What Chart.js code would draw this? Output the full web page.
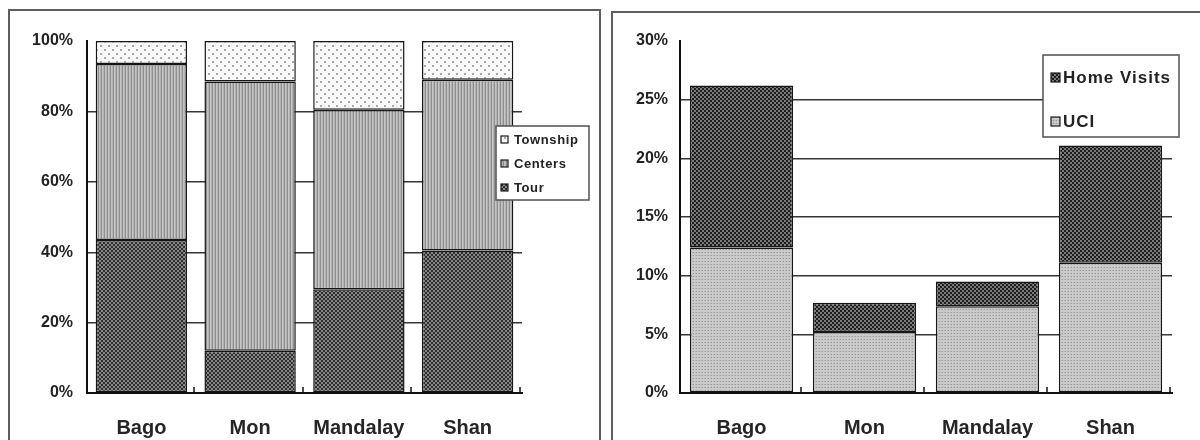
<!DOCTYPE html>
<html>
<head>
<meta charset="utf-8">
<script src="https://cdn.jsdelivr.net/npm/chart.js@4.4.1/dist/chart.umd.min.js"></script>
<style>
  html, body { margin: 0; padding: 0; background: #fff; }
  body { width: 1200px; height: 440px; position: relative; overflow: hidden; }
  .panel { position: absolute; box-sizing: border-box; border: 2px solid #5e5e5e; border-bottom: none; background: #fff; }
  #panelA { left: 8px; top: 9px; width: 593px; height: 440px; }
  #panelB { left: 611px; top: 11px; width: 600px; height: 440px; }
  canvas { position: absolute; }
  #chartA { left: 11px; top: 12px; width: 587px; height: 428px; }
  #chartB { left: 614px; top: 14px; width: 586px; height: 426px; }
</style>
</head>
<body>
<div class="panel" id="panelA"></div>
<div class="panel" id="panelB"></div>
<canvas id="chartA" width="587" height="428"></canvas>
<canvas id="chartB" width="586" height="426"></canvas>
<script>
// Regions shown on both charts
const categories = ['Bago', 'Mon', 'Mandalay', 'Shan'];

// Left chart: where services were delivered (% of total, stacked to 100)
const tourShare     = [43.5, 12.0, 29.5, 40.5];
const centersShare  = [50.0, 76.5, 51.0, 48.5];
const townshipShare = [6.5, 11.5, 19.5, 11.0];
const leftTickValues = [0, 20, 40, 60, 80, 100];

// Right chart: share of contacts by type (%)
const uciShare       = [12.4, 5.2, 7.4, 11.1];
const homeVisitShare = [13.8, 2.5, 2.1, 10.0];
const rightTickValues = [0, 5, 10, 15, 20, 25, 30];

const FONT = '"Liberation Sans", Arial, Helvetica, sans-serif';
Chart.defaults.font.family = FONT;
Chart.defaults.color = '#222';

// ---- fill textures -------------------------------------------------------
function makeTile(w, h, paint) {
  const c = document.createElement('canvas');
  c.width = w; c.height = h;
  const g = c.getContext('2d');
  paint(g);
  return document.createElement('canvas').getContext('2d').createPattern(c, 'repeat');
}
const meshDark = (base, dot) => makeTile(4, 4, g => {
  g.fillStyle = base; g.fillRect(0, 0, 4, 4);
  g.fillStyle = dot; g.fillRect(0, 0, 2, 2); g.fillRect(2, 2, 2, 2);
});
const stripes = makeTile(3, 3, g => {
  g.fillStyle = '#c6c6c6'; g.fillRect(0, 0, 3, 3);
  g.fillStyle = '#8e8e8e'; g.fillRect(0, 0, 1, 3);
  g.fillStyle = '#b2b2b2'; g.fillRect(2, 0, 1, 3);
});
const sparseDots = makeTile(8, 8, g => {
  g.fillStyle = '#f8f8f8'; g.fillRect(0, 0, 8, 8);
  g.fillStyle = '#a8a8a8'; g.fillRect(1, 1, 2, 2); g.fillRect(5, 5, 2, 2);
});
const fineDots = makeTile(3, 3, g => {
  g.fillStyle = '#cacaca'; g.fillRect(0, 0, 3, 3);
  g.fillStyle = '#979797'; g.fillRect(1, 1, 1, 1);
  g.fillStyle = '#b4b4b4'; g.fillRect(0, 1, 1, 1);
});
const tourFill = meshDark('#2e2e2e', '#878787');
const homeFill = meshDark('#1e1e1e', '#7a7a7a');

// ---- plugins -------------------------------------------------------------
// Framed legend drawn at a fixed spot over the plot, listed top-down
const boxLegend = {
  id: 'boxLegend',
  afterDraw(chart, args, o) {
    const ctx = chart.ctx;
    ctx.save();
    ctx.fillStyle = '#fff';
    ctx.fillRect(o.x, o.y, o.w, o.h);
    ctx.lineWidth = 1.5;
    ctx.strokeStyle = '#505050';
    ctx.strokeRect(o.x, o.y, o.w, o.h);
    ctx.font = 'bold ' + o.size + 'px ' + FONT;
    ctx.letterSpacing = o.spacing + 'px';
    ctx.textBaseline = 'middle';
    ctx.textAlign = 'left';
    chart.data.datasets.slice().reverse().forEach((ds, i) => {
      const cy = o.y + o.first + i * o.gap;
      const bx = o.x + o.mark, by = Math.round(cy - o.box / 2);
      ctx.fillStyle = ds.backgroundColor;
      ctx.fillRect(bx, by, o.box, o.box);
      ctx.lineWidth = 1.2;
      ctx.strokeStyle = '#1a1a1a';
      ctx.strokeRect(bx, by, o.box, o.box);
      ctx.fillStyle = '#222';
      ctx.fillText(ds.label, o.x + o.text, cy + 1);
    });
    ctx.restore();
  }
};

// Short upward marks on the category axis at each category boundary
const boundaryTicks = {
  id: 'boundaryTicks',
  afterDatasetsDraw(chart) {
    const xs = chart.scales.x;
    const half = (xs.getPixelForValue(1) - xs.getPixelForValue(0)) / 2;
    const base = chart.chartArea.bottom;
    const ctx = chart.ctx;
    ctx.save();
    ctx.strokeStyle = '#111';
    ctx.lineWidth = 1.5;
    for (let i = 0; i < chart.data.labels.length; i++) {
      const px = Math.round(xs.getPixelForValue(i) + half) - 2;
      ctx.beginPath();
      ctx.moveTo(px, base);
      ctx.lineTo(px, base - 6);
      ctx.stroke();
    }
    ctx.restore();
  }
};

function stackedChart(id, datasets, max, step, ticks, layout) {
  const barStyle = { borderColor: '#161616', borderWidth: 1.5, borderSkipped: false,
                     barPercentage: layout.bar, categoryPercentage: 1 };
  return new Chart(document.getElementById(id), {
    type: 'bar',
    data: { labels: categories, datasets: datasets.map(d => Object.assign({}, barStyle, d)) },
    plugins: [boxLegend, boundaryTicks],
    options: {
      responsive: false,
      animation: false,
      layout: { padding: { left: 0, right: layout.right, top: layout.top, bottom: 0 } },
      plugins: {
        legend: { display: false },
        tooltip: { enabled: false },
        boxLegend: layout.legend
      },
      scales: {
        x: {
          stacked: true,
          grid: { display: false },
          border: { display: true, color: '#111', width: 2 },
          ticks: { padding: 15, color: '#262626', font: { size: 20, weight: 'bold' } },
          afterFit: s => { s.height = layout.xh; }
        },
        y: {
          stacked: true,
          min: 0, max: max,
          afterBuildTicks: s => { s.ticks = ticks.map(v => ({ value: v })); },
          grid: {
            drawTicks: false,
            lineWidth: 1.4,
            color: c => (c.tick && (c.tick.value === 0 || c.tick.value === max)) ? 'rgba(0,0,0,0)' : '#363636'
          },
          border: { display: true, color: '#111', width: 2 },
          ticks: { stepSize: step, padding: layout.pad, color: '#222',
                   font: { size: 16, weight: 'bold' }, callback: v => v + '%' },
          afterFit: s => { s.width = layout.yw; }
        }
      }
    }
  });
}

stackedChart('chartA', [
  { label: 'Tour', data: tourShare, backgroundColor: tourFill },
  { label: 'Centers', data: centersShare, backgroundColor: stripes },
  { label: 'Township', data: townshipShare, backgroundColor: sparseDots }
], 100, 20, leftTickValues, {
  yw: 76, xh: 47, right: 76, top: 29, pad: 14, bar: 0.84,
  legend: { x: 485, y: 114, w: 93, h: 74, first: 13, gap: 24, mark: 5, box: 7, text: 18, size: 13, spacing: 0.6 }
});

stackedChart('chartB', [
  { label: 'UCI', data: uciShare, backgroundColor: fineDots },
  { label: 'Home Visits', data: homeVisitShare, backgroundColor: homeFill }
], 30, 5, rightTickValues, {
  yw: 66, xh: 47, right: 28, top: 27, pad: 12, bar: 0.84,
  legend: { x: 429, y: 41, w: 136, h: 82, first: 22, gap: 44, mark: 8, box: 9, text: 20, size: 17, spacing: 1 }
});
</script>
</body>
</html>
